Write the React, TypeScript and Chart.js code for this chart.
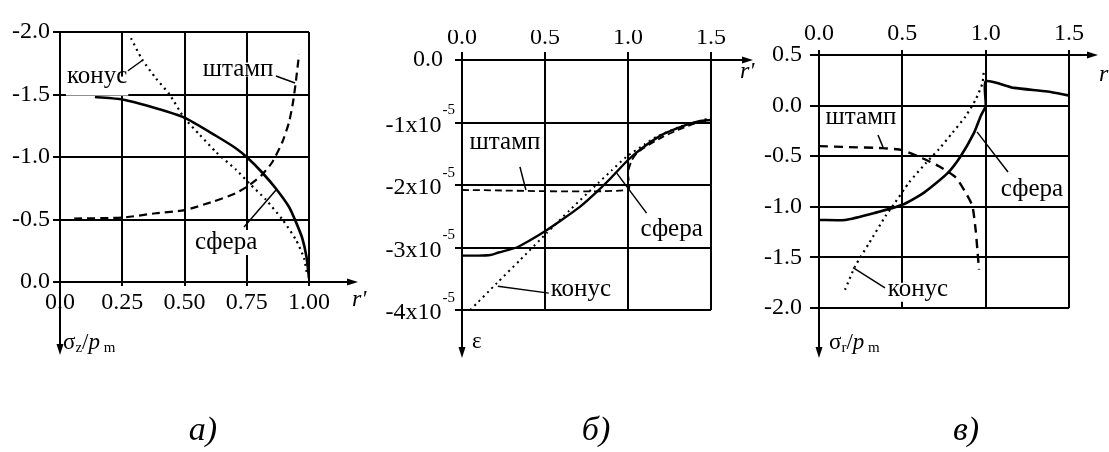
import React, { useEffect, useRef } from "react";
import { Chart, registerables } from "chart.js";

Chart.register(...registerables);

const WIDTH = 1109;
const HEIGHT = 452;
const SERIF = '"Liberation Serif", "Times New Roman", Times, serif';

// ---------- а) normal stress σz/pm on the contact surface ----------
const aSphereR = [0.14, 0.25, 0.385, 0.5, 0.626, 0.706, 0.755, 0.81, 0.866, 0.92, 0.946, 0.973, 0.99, 1.0];
const aSphereS = [-1.48, -1.46, -1.39, -1.315, -1.17, -1.07, -0.99, -0.88, -0.75, -0.6, -0.487, -0.35, -0.2, -0.03];
const aPunchR = [0.057, 0.25, 0.385, 0.5, 0.61, 0.706, 0.76, 0.81, 0.853, 0.893, 0.92, 0.936, 0.947, 0.96];
const aPunchS = [-0.508, -0.515, -0.55, -0.575, -0.64, -0.71, -0.775, -0.855, -0.96, -1.12, -1.28, -1.44, -1.6, -1.82];
const aConeR = [0.285, 0.33, 0.385, 0.44, 0.5, 0.56, 0.626, 0.706, 0.76, 0.826, 0.893, 0.947, 0.98, 0.993];
const aConeS = [-1.95, -1.78, -1.63, -1.5, -1.31, -1.18, -1.04, -0.9, -0.79, -0.66, -0.5, -0.34, -0.19, -0.05];
const aXTickLabels = ["0.0", "0.25", "0.50", "0.75", "1.00"];
const aYTickLabels = ["-2.0", "-1.5", "-1.0", "-0.5", "0.0"];

// ---------- б) strain ε, in units of 10^-5 ----------
const bSphereR = [0, 0.1, 0.17, 0.22, 0.33, 0.4, 0.5, 0.6, 0.71, 0.82, 0.9, 1.0, 1.1, 1.21, 1.3, 1.36, 1.43, 1.5];
const bSphereE5 = [-3.13, -3.13, -3.12, -3.08, -3.0, -2.9, -2.74, -2.56, -2.35, -2.09, -1.88, -1.6, -1.38, -1.19, -1.09, -1.03, -0.98, -0.96];
const bPunchR = [0, 1.0, 1.0, 1.02, 1.05, 1.1, 1.21, 1.3, 1.41, 1.5];
const bPunchE5 = [-2.08, -2.08, -1.8, -1.62, -1.5, -1.4, -1.23, -1.12, -1.01, -0.96];
const bConeR = [0.05, 0.21, 0.35, 0.51, 0.65, 0.82, 0.9, 0.99, 1.1, 1.17, 1.31, 1.4, 1.48];
const bConeE5 = [-4.0, -3.57, -3.2, -2.77, -2.4, -1.97, -1.77, -1.55, -1.35, -1.23, -1.07, -1.0, -0.94];
const bXTickLabels = ["0.0", "0.5", "1.0", "1.5"];
const bYTickMain = ["-4x10", "-3x10", "-2x10", "-1x10", "0.0"];
const bYTickExp = ["-5", "-5", "-5", "-5", ""];

// ---------- в) radial stress σr/pm ----------
const cSphereR = [0, 0.156, 0.335, 0.5, 0.63, 0.77, 0.85, 0.93, 0.97, 1.0, 1.0, 1.17, 1.37, 1.5];
const cSphereS = [-1.13, -1.13, -1.06, -0.98, -0.86, -0.67, -0.5, -0.27, -0.105, 0.0, 0.24, 0.175, 0.14, 0.1];
const cPunchR = [0, 0.18, 0.38, 0.5, 0.62, 0.72, 0.82, 0.88, 0.92, 0.94, 0.95, 0.96];
const cPunchS = [-0.4, -0.41, -0.42, -0.44, -0.52, -0.6, -0.71, -0.86, -0.99, -1.23, -1.42, -1.62];
const cConeR = [0.156, 0.216, 0.3, 0.4, 0.456, 0.54, 0.64, 0.72, 0.8, 0.88, 0.94, 0.98, 0.99];
const cConeS = [-1.82, -1.59, -1.36, -1.09, -0.96, -0.76, -0.57, -0.43, -0.27, -0.105, 0.06, 0.22, 0.36];
const cXTickLabels = ["0.0", "0.5", "1.0", "1.5"];
const cYTickLabels = ["-2.0", "-1.5", "-1.0", "-0.5", "0.0", "0.5"];

const panelTags = ["а)", "б)", "в)"];

type Pt = { x: number; y: number };
const zip = (xs: number[], ys: number[]): Pt[] => xs.map((x, i) => ({ x, y: ys[i] }));

const SOLID = { width: 2.6, dash: [] as number[] };
const DASHED = { width: 2.2, dash: [8, 5] };
const DOTTED = { width: 2.2, dash: [2, 4] };

type Run = { t: string; size: number; italic?: boolean; dy?: number };
type Note = { text: string; at: [number, number]; from: [number, number]; to: [number, number] };
type Series = { data: Pt[]; style: { width: number; dash: number[] } };

const TICK_FONT = 24;
const NOTE_FONT = 25;
const X_BAND = 30;

const rPrime: Run[] = [{ t: "r'", size: 24, italic: true }];
const sigmaZ: Run[] = [
  { t: "σ", size: 23 },
  { t: "z", size: 15, dy: 5 },
  { t: "/", size: 23 },
  { t: "p", size: 23, italic: true },
  { t: " m", size: 15, dy: 5 },
];
const sigmaR: Run[] = [
  { t: "σ", size: 23 },
  { t: "r", size: 15, dy: 5 },
  { t: "/", size: 23 },
  { t: "p", size: 23, italic: true },
  { t: " m", size: 15, dy: 5 },
];

type PanelSpec = {
  id: string;
  area: { left: number; top: number; right: number; bottom: number };
  xPosition: "top" | "bottom";
  x: [number, number, number];
  y: [number, number, number];
  yReverse: boolean;
  xLabels: string[];
  yLabels: string[] | null;
  xTick: number;
  yTick: number;
  xPad: number;
  yPad: number;
  xArrow: number;
  yArrow: number;
  xName: Run[];
  xNameAt: [number, number];
  yName: Run[];
  yNameAt: [number, number];
  series: Series[];
  notes: Note[];
};

const PANELS: PanelSpec[] = [
  {
    id: "a",
    area: { left: 60, top: 32, right: 309, bottom: 282 },
    xPosition: "bottom",
    x: [0, 1, 0.25],
    y: [-2, 0, 0.5],
    yReverse: true,
    xLabels: aXTickLabels,
    yLabels: aYTickLabels,
    xTick: 4,
    yTick: 7,
    xPad: 2,
    yPad: 3,
    xArrow: 49,
    yArrow: 73,
    xName: rPrime,
    xNameAt: [-6, 18],
    yName: sigmaZ,
    yNameAt: [3, -12],
    series: [
      { data: zip(aSphereR, aSphereS), style: SOLID },
      { data: zip(aPunchR, aPunchS), style: DASHED },
      { data: zip(aConeR, aConeS), style: DOTTED },
    ],
    notes: [
      { text: "конус", at: [0.149, -1.64], from: [0.273, -1.69], to: [0.333, -1.776] },
      { text: "штамп", at: [0.715, -1.7], from: [0.867, -1.648], to: [0.944, -1.592] },
      { text: "сфера", at: [0.667, -0.312], from: [0.739, -0.44], to: [0.871, -0.744] },
    ],
  },
  {
    id: "b",
    area: { left: 462, top: 60, right: 711, bottom: 310 },
    xPosition: "top",
    x: [0, 1.5, 0.5],
    y: [-4, 0, 1],
    yReverse: false,
    xLabels: bXTickLabels,
    yLabels: null,
    xTick: 8,
    yTick: 7,
    xPad: 0,
    yPad: 3,
    xArrow: 42,
    yArrow: 48,
    xName: rPrime,
    xNameAt: [-13, 12],
    yName: [{ t: "ε", size: 23 }],
    yNameAt: [10, -16],
    series: [
      { data: zip(bSphereR, bSphereE5), style: { width: 2.4, dash: [] } },
      { data: zip(bPunchR, bPunchE5), style: { width: 1.8, dash: [7, 4] } },
      { data: zip(bConeR, bConeE5), style: { width: 2, dash: [2, 4] } },
    ],
    notes: [
      { text: "штамп", at: [0.259, -1.33], from: [0.349, -1.71], to: [0.385, -2.08] },
      { text: "сфера", at: [1.263, -2.72], from: [1.112, -2.45], to: [0.932, -1.81] },
      { text: "конус", at: [0.716, -3.68], from: [0.523, -3.73], to: [0.216, -3.62] },
    ],
  },
  {
    id: "c",
    area: { left: 819, top: 55, right: 1069, bottom: 308 },
    xPosition: "top",
    x: [0, 1.5, 0.5],
    y: [-2, 0.5, 0.5],
    yReverse: false,
    xLabels: cXTickLabels,
    yLabels: cYTickLabels,
    xTick: 5,
    yTick: 9,
    xPad: 2,
    yPad: 8,
    xArrow: 29,
    yArrow: 50,
    xName: [{ t: "r", size: 24, italic: true }],
    xNameAt: [1, 20],
    yName: sigmaR,
    yNameAt: [10, -15],
    series: [
      { data: zip(cSphereR, cSphereS), style: SOLID },
      { data: zip(cPunchR, cPunchS), style: { width: 2.4, dash: [9, 6] } },
      { data: zip(cConeR, cConeS), style: DOTTED },
    ],
    notes: [
      { text: "штамп", at: [0.252, -0.123], from: [0.354, -0.29], to: [0.384, -0.41] },
      { text: "сфера", at: [1.278, -0.834], from: [1.134, -0.656], to: [0.948, -0.26] },
      { text: "конус", at: [0.594, -1.82], from: [0.396, -1.8], to: [0.204, -1.6] },
    ],
  },
];

// label lookup by tick value, independent of the order Chart.js keeps its ticks in
const labelFor = (labels: string[], min: number, step: number, v: number) =>
  labels[Math.round((v - min) / step)] ?? "";

function drawRuns(ctx: CanvasRenderingContext2D, runs: Run[], x: number, y: number) {
  let cx = x;
  ctx.textAlign = "left";
  ctx.textBaseline = "middle";
  for (const r of runs) {
    ctx.font = `${r.italic ? "italic " : ""}${r.size}px ${SERIF}`;
    ctx.fillText(r.t, cx, y + (r.dy || 0));
    cx += ctx.measureText(r.t).width;
  }
}

function decorPlugin(p: PanelSpec) {
  return {
    id: "decor-" + p.id,
    afterDraw(chart: any) {
      const ctx: CanvasRenderingContext2D = chart.ctx;
      const a = chart.chartArea;
      const xs = chart.scales.x;
      const ys = chart.scales.y;
      const sx = (v: number) => xs.getPixelForValue(v);
      const sy = (v: number) => ys.getPixelForValue(v);
      const seg = (x1: number, y1: number, x2: number, y2: number) => {
        ctx.beginPath();
        ctx.moveTo(x1, y1);
        ctx.lineTo(x2, y2);
        ctx.stroke();
      };
      ctx.save();
      ctx.strokeStyle = "#000";
      ctx.fillStyle = "#000";
      ctx.lineWidth = 2;
      ctx.setLineDash([]);

      // r-axis continues past the grid and ends in an arrow
      const ay = p.xPosition === "top" ? a.top : a.bottom;
      const xEnd = a.right + p.xArrow;
      seg(a.right, ay, xEnd - 4, ay);
      ctx.beginPath();
      ctx.moveTo(xEnd, ay);
      ctx.lineTo(xEnd - 11, ay - 3.5);
      ctx.lineTo(xEnd - 11, ay + 3.5);
      ctx.closePath();
      ctx.fill();

      // value axis continues downwards with an arrow
      const yEnd = a.bottom + p.yArrow;
      seg(a.left, a.bottom, a.left, yEnd - 4);
      ctx.beginPath();
      ctx.moveTo(a.left, yEnd);
      ctx.lineTo(a.left - 3.5, yEnd - 11);
      ctx.lineTo(a.left + 3.5, yEnd - 11);
      ctx.closePath();
      ctx.fill();

      drawRuns(ctx, p.xName, xEnd + p.xNameAt[0], ay + p.xNameAt[1]);
      drawRuns(ctx, p.yName, a.left + p.yNameAt[0], yEnd + p.yNameAt[1]);

      // scientific tick labels with a raised exponent
      if (!p.yLabels) {
        ys.ticks.forEach((t: any) => {
          const y = sy(t.value);
          const main = labelFor(bYTickMain, p.y[0], p.y[2], t.value);
          const exp = labelFor(bYTickExp, p.y[0], p.y[2], t.value);
          ctx.textBaseline = "middle";
          ctx.textAlign = "right";
          if (!exp) {
            ctx.font = `${TICK_FONT}px ${SERIF}`;
            ctx.fillText(main, a.left - 19, y);
          } else {
            ctx.font = `15px ${SERIF}`;
            const ew = ctx.measureText(exp).width;
            ctx.fillText(exp, a.left - 7, y - 12);
            ctx.font = `${TICK_FONT}px ${SERIF}`;
            ctx.fillText(main, a.left - 8 - ew, y + 3);
          }
        });
      }

      // curve captions with leader lines
      ctx.font = `${NOTE_FONT}px ${SERIF}`;
      for (const n of p.notes) {
        ctx.lineWidth = 1.5;
        ctx.strokeStyle = "#000";
        seg(sx(n.from[0]), sy(n.from[1]), sx(n.to[0]), sy(n.to[1]));
        const m = ctx.measureText(n.text);
        const cx = sx(n.at[0]);
        const base = sy(n.at[1]) + 6;
        ctx.textAlign = "center";
        ctx.textBaseline = "alphabetic";
        ctx.fillStyle = "#fff";
        ctx.fillRect(
          cx - m.width / 2 - 1,
          base - m.actualBoundingBoxAscent - 1,
          m.width + 2,
          m.actualBoundingBoxAscent + m.actualBoundingBoxDescent + 2
        );
        ctx.fillStyle = "#000";
        ctx.fillText(n.text, cx, base);
      }
      ctx.restore();
    },
  };
}

function buildConfig(p: PanelSpec): any {
  const xTop = p.xPosition === "top";
  const gridOf = (len: number) => ({
    color: "#000",
    lineWidth: 2,
    drawTicks: true,
    tickLength: len,
    tickColor: "#000",
    tickWidth: 2,
  });
  const border = { display: true, color: "#000", width: 2 };
  const font = { family: SERIF, size: TICK_FONT };
  return {
    type: "line",
    data: {
      datasets: p.series.map((s) => ({
        data: s.data,
        borderColor: "#000",
        borderWidth: s.style.width,
        borderDash: s.style.dash,
        borderCapStyle: "butt",
        pointRadius: 0,
        fill: false,
        tension: 0.2,
      })),
    },
    options: {
      responsive: false,
      maintainAspectRatio: false,
      animation: false,
      devicePixelRatio: 1,
      events: [],
      layout: {
        padding: {
          left: 0,
          right: WIDTH - p.area.right,
          top: xTop ? p.area.top - X_BAND : p.area.top,
          bottom: xTop ? HEIGHT - p.area.bottom : HEIGHT - p.area.bottom - X_BAND,
        },
      },
      plugins: { legend: { display: false }, tooltip: { enabled: false } },
      scales: {
        x: {
          type: "linear",
          position: p.xPosition,
          min: p.x[0],
          max: p.x[1],
          afterFit: (s: any) => {
            s.height = X_BAND;
          },
          ticks: {
            stepSize: p.x[2],
            autoSkip: false,
            maxRotation: 0,
            color: "#000",
            font,
            padding: p.xPad,
            callback: (v: number) => labelFor(p.xLabels, p.x[0], p.x[2], v),
          },
          grid: gridOf(p.xTick),
          border,
        },
        y: {
          type: "linear",
          position: "left",
          min: p.y[0],
          max: p.y[1],
          reverse: p.yReverse,
          afterFit: (s: any) => {
            s.width = p.area.left;
          },
          ticks: {
            display: !!p.yLabels,
            stepSize: p.y[2],
            autoSkip: false,
            color: "#000",
            font,
            padding: p.yPad,
            callback: (v: number) => (p.yLabels ? labelFor(p.yLabels, p.y[0], p.y[2], v) : ""),
          },
          grid: gridOf(p.yTick),
          border,
        },
      },
    },
    plugins: [decorPlugin(p)],
  };
}

function Panel({ spec }: { spec: PanelSpec }) {
  const ref = useRef<HTMLCanvasElement | null>(null);
  useEffect(() => {
    if (!ref.current) return;
    const chart = new Chart(ref.current, buildConfig(spec));
    return () => chart.destroy();
  }, [spec]);
  return (
    <canvas
      ref={ref}
      width={WIDTH}
      height={HEIGHT}
      style={{ position: "absolute", left: 0, top: 0, width: WIDTH, height: HEIGHT }}
    />
  );
}

const TAG_CENTERS = [203, 596, 966];

export default function App() {
  return (
    <div
      style={{
        position: "absolute",
        left: 0,
        top: 0,
        width: WIDTH,
        height: HEIGHT,
        background: "#fff",
        overflow: "hidden",
      }}
    >
      {PANELS.map((p) => (
        <Panel key={p.id} spec={p} />
      ))}
      {panelTags.map((t, i) => (
        <div
          key={t}
          style={{
            position: "absolute",
            left: TAG_CENTERS[i] - 40,
            width: 80,
            top: 412,
            textAlign: "center",
            fontFamily: SERIF,
            fontStyle: "italic",
            fontSize: 34,
            lineHeight: "34px",
            color: "#000",
          }}
        >
          {t}
        </div>
      ))}
    </div>
  );
}
